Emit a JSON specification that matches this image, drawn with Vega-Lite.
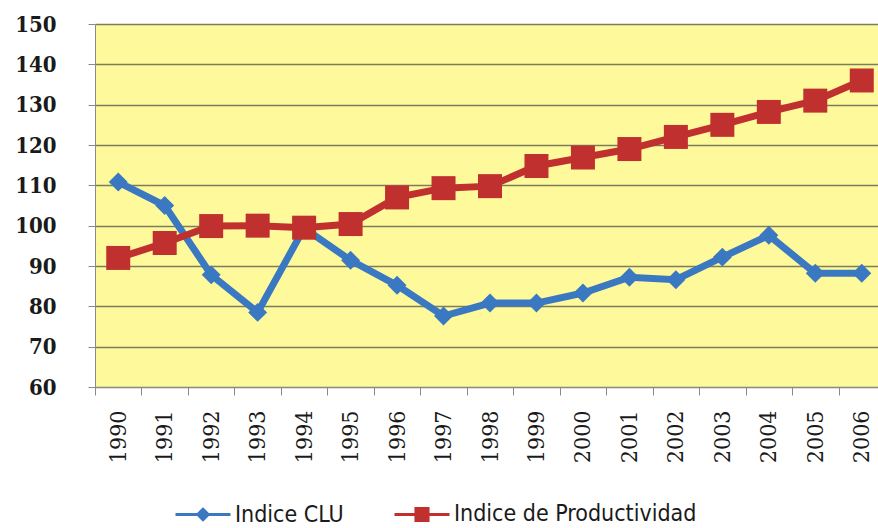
{
  "$schema": "https://vega.github.io/schema/vega-lite/v6.json",
  "autosize": "none",
  "width": 790,
  "height": 363,
  "padding": {"left": 95, "top": 24, "right": 0, "bottom": 141},
  "background": "white",
  "data": {
    "values": [
      {"year": "1990", "series": "Indice CLU", "value": 110.8},
      {"year": "1991", "series": "Indice CLU", "value": 105},
      {"year": "1992", "series": "Indice CLU", "value": 87.8},
      {"year": "1993", "series": "Indice CLU", "value": 78.5},
      {"year": "1994", "series": "Indice CLU", "value": 99.4},
      {"year": "1995", "series": "Indice CLU", "value": 91.4},
      {"year": "1996", "series": "Indice CLU", "value": 85.2},
      {"year": "1997", "series": "Indice CLU", "value": 77.6},
      {"year": "1998", "series": "Indice CLU", "value": 80.8},
      {"year": "1999", "series": "Indice CLU", "value": 80.8},
      {"year": "2000", "series": "Indice CLU", "value": 83.3},
      {"year": "2001", "series": "Indice CLU", "value": 87.2},
      {"year": "2002", "series": "Indice CLU", "value": 86.6},
      {"year": "2003", "series": "Indice CLU", "value": 92.2},
      {"year": "2004", "series": "Indice CLU", "value": 97.6},
      {"year": "2005", "series": "Indice CLU", "value": 88.2},
      {"year": "2006", "series": "Indice CLU", "value": 88.2},
      {"year": "1990", "series": "Indice de Productividad", "value": 92},
      {"year": "1991", "series": "Indice de Productividad", "value": 95.7},
      {"year": "1992", "series": "Indice de Productividad", "value": 99.9},
      {"year": "1993", "series": "Indice de Productividad", "value": 100},
      {"year": "1994", "series": "Indice de Productividad", "value": 99.5},
      {"year": "1995", "series": "Indice de Productividad", "value": 100.4},
      {"year": "1996", "series": "Indice de Productividad", "value": 107},
      {"year": "1997", "series": "Indice de Productividad", "value": 109.3},
      {"year": "1998", "series": "Indice de Productividad", "value": 109.8},
      {"year": "1999", "series": "Indice de Productividad", "value": 114.8},
      {"year": "2000", "series": "Indice de Productividad", "value": 116.9},
      {"year": "2001", "series": "Indice de Productividad", "value": 119},
      {"year": "2002", "series": "Indice de Productividad", "value": 122},
      {"year": "2003", "series": "Indice de Productividad", "value": 125},
      {"year": "2004", "series": "Indice de Productividad", "value": 128.2},
      {"year": "2005", "series": "Indice de Productividad", "value": 131},
      {"year": "2006", "series": "Indice de Productividad", "value": 136}
    ]
  },
  "encoding": {
    "x": {
      "field": "year", "type": "ordinal",
      "scale": {"type": "band", "paddingInner": 0, "paddingOuter": 0},
      "axis": {
        "title": null, "labelAngle": -90, "tickBand": "extent",
        "labelFont": "DejaVu Serif Condensed", "labelFontSize": 23, "labelColor": "#1a1a1a",
        "labelPadding": 15, "tickSize": 8, "tickColor": "#8a8a8a", "domainColor": "#8a8a8a",
        "labelBaseline": "middle", "labelAlign": "right", "grid": false
      }
    },
    "y": {
      "field": "value", "type": "quantitative",
      "scale": {"domain": [60, 150], "nice": false, "zero": false},
      "axis": {
        "title": null, "values": [60,70,80,90,100,110,120,130,140,150],
        "labelFont": "DejaVu Serif Condensed", "labelFontWeight": "bold", "labelFontSize": 22, "labelColor": "#1a1a1a",
        "labelPadding": 32, "tickSize": 7, "tickColor": "#8a8a8a", "domainColor": "#8a8a8a",
        "grid": true, "gridColor": "#7d7d5e", "gridWidth": 1.5
      }
    },
    "color": {
      "field": "series", "type": "nominal",
      "scale": {"domain": ["Indice CLU", "Indice de Productividad"], "range": ["#3b78c2", "#c0302e"]},
      "legend": {
        "title": null, "orient": "none", "direction": "horizontal",
        "legendX": 79, "legendY": 461,
        "labelFont": "DejaVu Sans Condensed", "labelFontSize": 23, "labelColor": "#1a1a1a", "labelLimit": 400,
        "symbolType": "M-1,0H1M0,-0.19L0.19,0L0,0.19L-0.19,0Z",
        "symbolSize": 3025, "symbolStrokeWidth": 3, "labelOffset": 3, "columnPadding": 44,
        "encode": {
          "symbols": {
            "update": {
              "shape": {"signal": "datum.value === 'Indice CLU' ? 'M-1,0H1M0,-0.19L0.19,0L0,0.19L-0.19,0Z' : 'M-1,0H1M-0.22,-0.22H0.22V0.22H-0.22Z'"}
            }
          }
        }
      }
    }
  },
  "layer": [
    {"mark": {"type": "line", "strokeWidth": 7}},
    {
      "transform": [{"filter": "datum.series === 'Indice CLU'"}],
      "mark": {"type": "point", "filled": true, "opacity": 1, "shape": "diamond", "size": 360}
    },
    {
      "transform": [{"filter": "datum.series === 'Indice de Productividad'"}],
      "mark": {"type": "point", "filled": true, "opacity": 1, "shape": "square", "size": 576}
    }
  ],
  "config": {
    "view": {"fill": "#fefa9c", "stroke": null}
  }
}
